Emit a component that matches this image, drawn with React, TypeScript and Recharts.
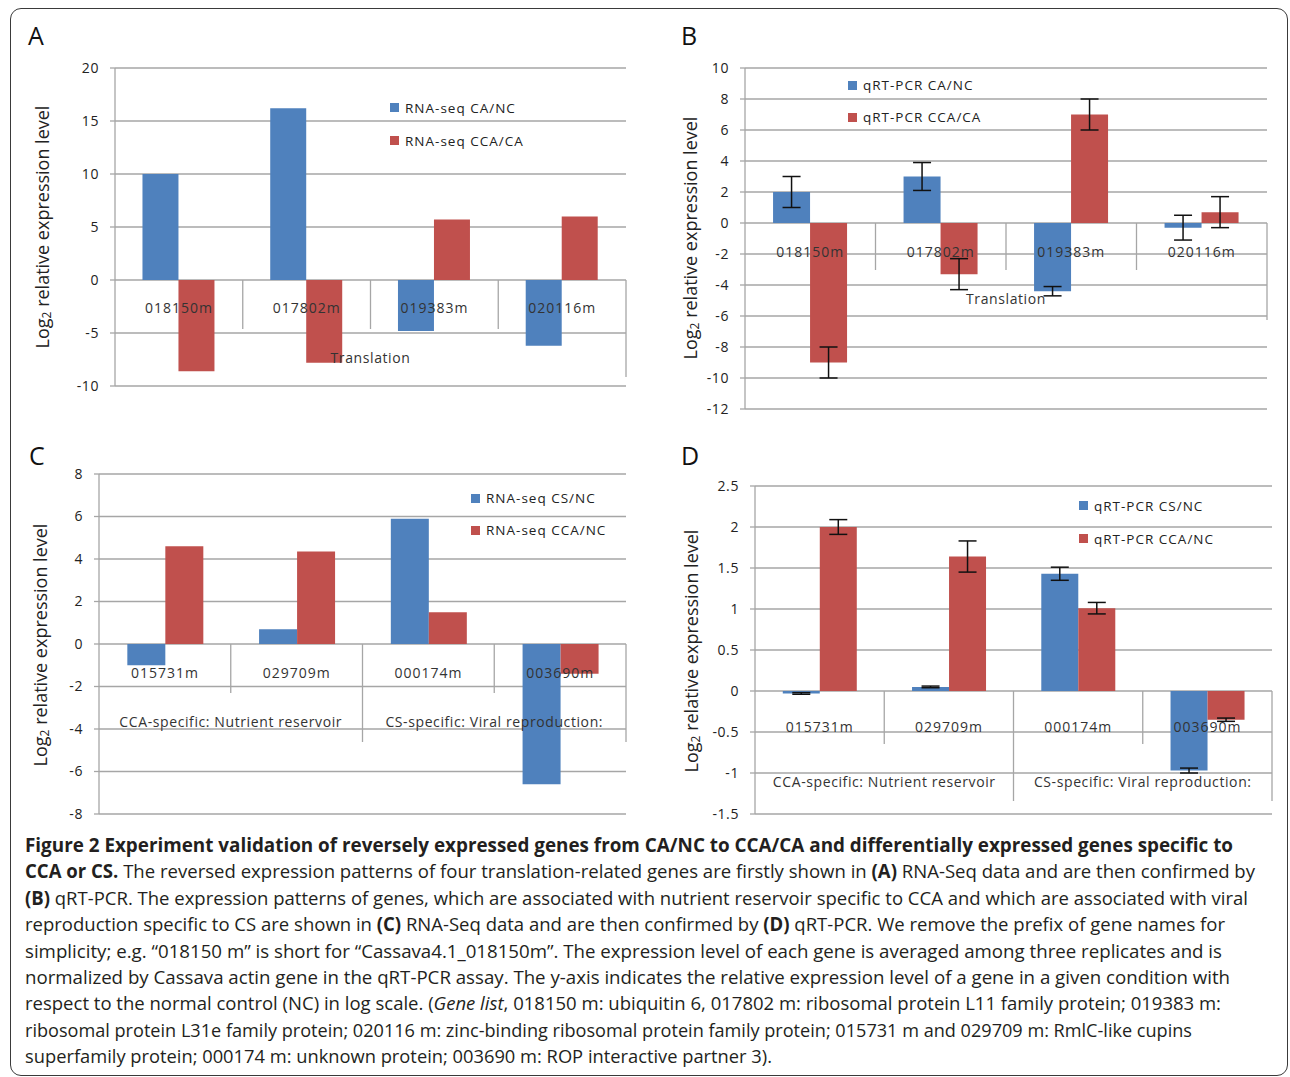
import React from 'react'
import { Bar, BarChart, CartesianGrid, ErrorBar, Legend, XAxis, YAxis } from 'recharts'

const BLUE = '#4f81bd'
const RED = '#c0504d'
const GRID = '#a6a6a6'
const FONT = '"Open Sans", "Noto Sans", sans-serif'

// panels A and B: translation-related genes
const translationGenes = ['018150m', '017802m', '019383m', '020116m']
const rnaSeqCaNc = [10, 16.2, -4.8, -6.2]
const rnaSeqCcaCa = [-8.6, -7.8, 5.7, 6.0]
const qpcrCaNc = [2.0, 3.0, -4.4, -0.3]
const qpcrCaNcErr = [1.0, 0.9, 0.3, 0.8]
const qpcrCcaCa = [-9.0, -3.3, 7.0, 0.7]
const qpcrCcaCaErr = [1.0, 1.0, 1.0, 1.0]

// panels C and D: CCA / CS specific genes
const specificGenes = ['015731m', '029709m', '000174m', '003690m']
const rnaSeqCsNc = [-1.0, 0.7, 5.9, -6.6]
const rnaSeqCcaNc = [4.6, 4.35, 1.5, -1.4]
const qpcrCsNc = [-0.03, 0.05, 1.43, -0.97]
const qpcrCsNcErr = [0.01, 0.01, 0.08, 0.03]
const qpcrCcaNc = [2.0, 1.64, 1.01, -0.35]
const qpcrCcaNcErr = [0.09, 0.19, 0.07, 0.02]

const ticksA = [-10, -5, 0, 5, 10, 15, 20]
const ticksB = [-12, -10, -8, -6, -4, -2, 0, 2, 4, 6, 8, 10]
const ticksC = [-8, -6, -4, -2, 0, 2, 4, 6, 8]
const ticksD = [-1.5, -1, -0.5, 0, 0.5, 1, 1.5, 2, 2.5]

const translationGroups = [{ label: 'Translation', start: 0, end: 3 }]
const specificGroups = [
  { label: 'CCA-specific: Nutrient reservoir', start: 0, end: 1 },
  { label: 'CS-specific: Viral reproduction:', start: 2, end: 3 },
]

type Series = { name: string; color: string; values: number[]; errors?: number[] }
type Group = { label: string; start: number; end: number }

interface PanelProps {
  genes: string[]
  series: Series[]
  domain: [number, number]
  ticks: number[]
  plot: { left: number; top: number; right: number; bottom: number }
  yAxisWidth: number
  labelOffset: number
  groupOffset: number
  groups: Group[]
  sepShort: number
  sepLong: number
  longSeps: number[]
  legend: { left: number; top: number; row: number }
}

const MT = 10
const ML = 5
const MR = 10
const XH = 20

const Panel: React.FC<PanelProps> = (p) => {
  const plotW = p.plot.right - p.plot.left
  const plotH = p.plot.bottom - p.plot.top
  const width = p.yAxisWidth + ML + plotW + MR
  const height = MT + plotH + XH
  const chartLeft = p.plot.left - p.yAxisWidth - ML
  const chartTop = p.plot.top - MT
  const zeroY = MT + (p.domain[1] / (p.domain[1] - p.domain[0])) * plotH
  const bw = plotW / p.genes.length
  const n = p.genes.length

  const data = p.genes.map((g, i) => {
    const row: any = { gene: g }
    p.series.forEach((s, k) => {
      row['s' + k] = s.values[i]
      if (s.errors) row['e' + k] = s.errors[i]
    })
    return row
  })

  const renderTick = (props: any) => {
    const { x, payload } = props
    const i = props.index ?? payload.index
    return (
      <g>
        {i > 0 && (
          <line x1={x - bw / 2} x2={x - bw / 2} y1={zeroY} y2={zeroY + (p.longSeps.includes(i) ? p.sepLong : p.sepShort)} stroke={GRID} strokeWidth={1.3} />
        )}
        {i === n - 1 && (
          <line x1={x + bw / 2} x2={x + bw / 2} y1={zeroY} y2={zeroY + p.sepLong} stroke={GRID} strokeWidth={1.3} />
        )}
        <text x={x} y={zeroY + p.labelOffset} textAnchor="middle" dominantBaseline="central" fontSize={14} letterSpacing={1} fontFamily={FONT} fill="#333">
          {payload.value}
        </text>
        {p.groups
          .filter((g) => g.start === i)
          .map((g) => (
            <text key={g.label} x={x + ((g.end - g.start) * bw) / 2} y={zeroY + p.groupOffset} textAnchor="middle" dominantBaseline="central" fontSize={14} letterSpacing={0.6} fontFamily={FONT} fill="#333">
              {g.label}
            </text>
          ))}
      </g>
    )
  }

  const renderLegend = () => (
    <div style={{ fontFamily: FONT, fontSize: 13.5, letterSpacing: 1, color: '#222' }}>
      {p.series.map((s) => (
        <div key={s.name} style={{ display: 'flex', alignItems: 'center', height: p.legend.row, whiteSpace: 'nowrap' }}>
          <span style={{ display: 'inline-block', width: 9, height: 9, background: s.color, marginRight: 6 }} />
          <span>{s.name}</span>
        </div>
      ))}
    </div>
  )

  return (
    <div style={{ position: 'absolute', left: chartLeft, top: chartTop }}>
      <BarChart width={width} height={height} data={data} margin={{ top: MT, right: MR, bottom: 0, left: ML }} barCategoryGap="21.5%" barGap={0}>
        <CartesianGrid vertical={false} stroke={GRID} strokeWidth={1.3} />
        <YAxis
          domain={p.domain}
          ticks={p.ticks}
          interval={0}
          allowDataOverflow
          width={p.yAxisWidth}
          tickSize={5}
          tickMargin={11}
          axisLine={{ stroke: GRID, strokeWidth: 1.3 }}
          tickLine={{ stroke: GRID, strokeWidth: 1.3 }}
          tick={{ fill: '#222', fontSize: 14, fontFamily: FONT, letterSpacing: 0.6 }}
        />
        <Legend
          layout="vertical"
          align="center"
          verticalAlign="middle"
          content={renderLegend}
          wrapperStyle={{ left: p.legend.left - chartLeft, top: p.legend.top - chartTop, width: 'auto', height: 'auto' }}
        />
        {p.series.map((s, k) => (
          <Bar key={s.name} dataKey={'s' + k} name={s.name} fill={s.color} isAnimationActive={false}>
            {s.errors && <ErrorBar dataKey={'e' + k} width={9} strokeWidth={1.5} stroke="#111" direction="y" />}
          </Bar>
        ))}
        <XAxis dataKey="gene" height={XH} axisLine={false} tickLine={false} interval={0} tick={renderTick} />
      </BarChart>
    </div>
  )
}

const captionLines: { w: number; parts: [string, string][] }[] = [
  { w: 1208, parts: [['b', 'Figure 2 Experiment validation of reversely expressed genes from CA/NC to CCA/CA and differentially expressed genes specific to']] },
  { w: 1230, parts: [['b', 'CCA or CS.'], ['', ' The reversed expression patterns of four translation-related genes are firstly shown in '], ['b', '(A)'], ['', ' RNA-Seq data and are then confirmed by']] },
  { w: 1223, parts: [['b', '(B)'], ['', ' qRT-PCR. The expression patterns of genes, which are associated with nutrient reservoir specific to CCA and which are associated with viral']] },
  { w: 1200, parts: [['', 'reproduction specific to CS are shown in '], ['b', '(C)'], ['', ' RNA-Seq data and are then confirmed by '], ['b', '(D)'], ['', ' qRT-PCR. We remove the prefix of gene names for']] },
  { w: 1197, parts: [['', 'simplicity; e.g. \u201c018150 m\u201d is short for \u201cCassava4.1_018150m\u201d. The expression level of each gene is averaged among three replicates and is']] },
  { w: 1205, parts: [['', 'normalized by Cassava actin gene in the qRT-PCR assay. The y-axis indicates the relative expression level of a gene in a given condition with']] },
  { w: 1196, parts: [['', 'respect to the normal control (NC) in log scale. ('], ['i', 'Gene list'], ['', ', 018150 m: ubiquitin 6, 017802 m: ribosomal protein L11 family protein; 019383 m:']] },
  { w: 1167, parts: [['', 'ribosomal protein L31e family protein; 020116 m: zinc-binding ribosomal protein family protein; 015731 m and 029709 m: RmlC-like cupins']] },
  { w: 747, parts: [['', 'superfamily protein; 000174 m: unknown protein; 003690 m: ROP interactive partner 3).']] },
]

const YLabel = ({ x, y }: { x: number; y: number }) => (
  <text transform={`translate(${x},${y}) rotate(-90)`} textAnchor="middle" dominantBaseline="central" fontSize={18} fontFamily={FONT} fill="#222">
    Log
    <tspan fontSize={12} dy={4}>2</tspan>
    <tspan dy={-4}> relative expression level</tspan>
  </text>
)

export default function App() {
  return (
    <div style={{ position: 'absolute', left: 0, top: 0, width: 1290, height: 1077, background: '#fff', overflow: 'hidden' }}>
      <div style={{ position: 'absolute', left: 10, top: 8, width: 1276, height: 1066, border: '1.6px solid #3a3a3a', borderRadius: 11 }} />
      <svg width={1290} height={1077} style={{ position: 'absolute', left: 0, top: 0 }}>
        <g fontFamily={FONT} fontSize={25} fill="#111">
          <text x={28} y={45}>A</text>
          <text x={681} y={45}>B</text>
          <text x={29} y={465}>C</text>
          <text x={681} y={465}>D</text>
        </g>
        <YLabel x={42} y={227} />
        <YLabel x={690} y={238} />
        <YLabel x={40} y={645} />
        <YLabel x={691} y={651} />
        <g fontFamily={FONT} fontSize={19} fill="#231f20" style={{ whiteSpace: 'pre' }}>
          {captionLines.map((line, k) => (
            <text key={k} x={25} y={852 + k * 26.4} textLength={line.w} lengthAdjust="spacingAndGlyphs">
              {line.parts.map(([st, t], j) => (
                <tspan key={j} fontWeight={st === 'b' ? 700 : 400} fontStyle={st === 'i' ? 'italic' : 'normal'}>
                  {t}
                </tspan>
              ))}
            </text>
          ))}
        </g>
      </svg>

      <Panel
        genes={translationGenes}
        series={[
          { name: 'RNA-seq CA/NC', color: BLUE, values: rnaSeqCaNc },
          { name: 'RNA-seq CCA/CA', color: RED, values: rnaSeqCcaCa },
        ]}
        domain={[-10, 20]}
        ticks={ticksA}
        plot={{ left: 115, top: 68, right: 626, bottom: 386 }}
        yAxisWidth={45}
        labelOffset={27}
        groupOffset={77}
        groups={translationGroups}
        sepShort={49}
        sepLong={97}
        longSeps={[]}
        legend={{ left: 390, top: 91, row: 33 }}
      />
      <Panel
        genes={translationGenes}
        series={[
          { name: 'qRT-PCR CA/NC', color: BLUE, values: qpcrCaNc, errors: qpcrCaNcErr },
          { name: 'qRT-PCR CCA/CA', color: RED, values: qpcrCcaCa, errors: qpcrCcaCaErr },
        ]}
        domain={[-12, 10]}
        ticks={ticksB}
        plot={{ left: 745, top: 68, right: 1267, bottom: 409 }}
        yAxisWidth={50}
        labelOffset={28}
        groupOffset={75}
        groups={translationGroups}
        sepShort={47}
        sepLong={97}
        longSeps={[]}
        legend={{ left: 848, top: 69, row: 32 }}
      />
      <Panel
        genes={specificGenes}
        series={[
          { name: 'RNA-seq CS/NC', color: BLUE, values: rnaSeqCsNc },
          { name: 'RNA-seq CCA/NC', color: RED, values: rnaSeqCcaNc },
        ]}
        domain={[-8, 8]}
        ticks={ticksC}
        plot={{ left: 99, top: 474, right: 626, bottom: 814 }}
        yAxisWidth={45}
        labelOffset={28}
        groupOffset={77}
        groups={specificGroups}
        sepShort={49}
        sepLong={98}
        longSeps={[2]}
        legend={{ left: 471, top: 482, row: 32 }}
      />
      <Panel
        genes={specificGenes}
        series={[
          { name: 'qRT-PCR CS/NC', color: BLUE, values: qpcrCsNc, errors: qpcrCsNcErr },
          { name: 'qRT-PCR CCA/NC', color: RED, values: qpcrCcaNc, errors: qpcrCcaNcErr },
        ]}
        domain={[-1.5, 2.5]}
        ticks={ticksD}
        plot={{ left: 755, top: 486, right: 1272, bottom: 814 }}
        yAxisWidth={50}
        labelOffset={35}
        groupOffset={90}
        groups={specificGroups}
        sepShort={53}
        sepLong={110}
        longSeps={[2]}
        legend={{ left: 1079, top: 489, row: 33 }}
      />
    </div>
  )
}
